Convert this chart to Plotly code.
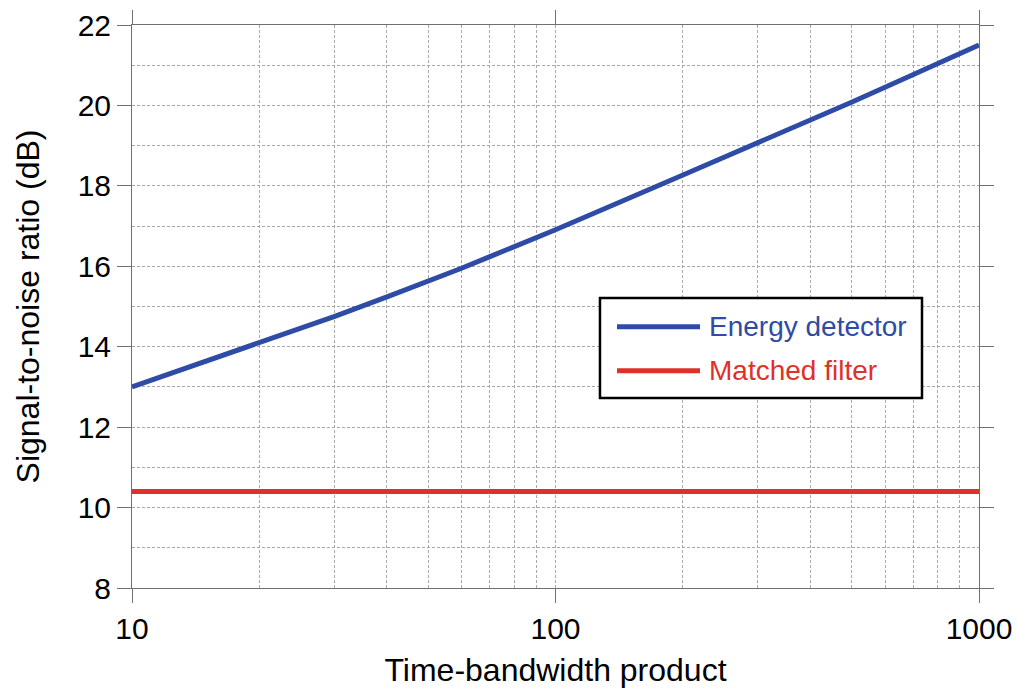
import plotly.graph_objects as go

# ---- data ----
tbp = [10, 20, 30, 40, 50, 60, 70, 80, 90, 100, 200, 300, 400, 500, 600, 700, 800, 900, 1000]
energy_snr = [13.0, 14.09, 14.75, 15.24, 15.62, 15.95, 16.24, 16.49, 16.71, 16.91,
              18.27, 19.06, 19.63, 20.08, 20.45, 20.76, 21.03, 21.27, 21.50]
matched_tbp = [10, 1000]
matched_snr = [10.4, 10.4]
series_names = ["Energy detector", "Matched filter"]
series_colors = ["#2E4BA6", "#E0302A"]
x_major = [10, 100, 1000]
x_minor = [20, 30, 40, 50, 60, 70, 80, 90, 200, 300, 400, 500, 600, 700, 800, 900]

FONT = "Liberation Sans, Arial, sans-serif"
GRID = "#a8a8a8"
AXIS = "#707070"
DASH = "3px,2px"

fig = go.Figure()
fig.add_trace(go.Scatter(x=tbp, y=energy_snr, mode="lines", name=series_names[0],
                         line=dict(color=series_colors[0], width=5),
                         showlegend=False))
fig.add_trace(go.Scatter(x=matched_tbp, y=matched_snr, mode="lines", name=series_names[1],
                         line=dict(color=series_colors[1], width=5),
                         showlegend=False))

fig.update_layout(
    width=1018, height=689,
    margin=dict(l=132, r=39, t=25, b=101),
    paper_bgcolor="white", plot_bgcolor="white",
    font=dict(family=FONT, color="black", size=30),
)
fig.update_xaxes(
    type="log", range=[1, 3],
    tickvals=x_major, ticktext=[str(v) for v in x_major],
    ticks="outside", ticklen=14, tickcolor=AXIS, tickwidth=1,
    showline=True, linecolor=AXIS, linewidth=1, mirror="ticks",
    showgrid=True, gridcolor=GRID, griddash=DASH, gridwidth=1,
    minor=dict(tickvals=x_minor, showgrid=True, gridcolor=GRID, griddash=DASH, ticks=""),
    tickfont=dict(size=30),
    title=dict(text="Time-bandwidth product", font=dict(size=32), standoff=14),
    zeroline=False, automargin=False,
)
fig.update_yaxes(
    range=[8, 22], dtick=2, tick0=8,
    ticks="outside", ticklen=14, tickcolor=AXIS, tickwidth=1,
    showline=True, linecolor=AXIS, linewidth=1, mirror="ticks",
    showgrid=True, gridcolor=GRID, griddash=DASH, gridwidth=1,
    minor=dict(dtick=1, showgrid=True, gridcolor=GRID, griddash=DASH, ticks=""),
    tickfont=dict(size=30),
    title=dict(text="Signal-to-noise ratio (dB)", font=dict(size=32), standoff=28),
    zeroline=False, automargin=False,
)

# ---- custom legend (box, sample lines, coloured labels) ----
fig.add_shape(type="rect", xref="paper", yref="paper",
              x0=0.5525, x1=0.9327, y0=0.3375, y1=0.5151,
              line=dict(color="black", width=2.5), fillcolor="white", layer="above")
legend_rows_y = [0.4641, 0.3860]
for name, color, yy in zip(series_names, series_colors, legend_rows_y):
    fig.add_shape(type="line", xref="paper", yref="paper",
                  x0=0.5726, x1=0.6706, y0=yy, y1=yy,
                  line=dict(color=color, width=5), layer="above")
    fig.add_annotation(xref="paper", yref="paper", x=0.6790, y=yy,
                       text=name, showarrow=False, xanchor="left", yanchor="middle",
                       font=dict(family=FONT, size=28, color=color))

fig.write_html("out.html")
